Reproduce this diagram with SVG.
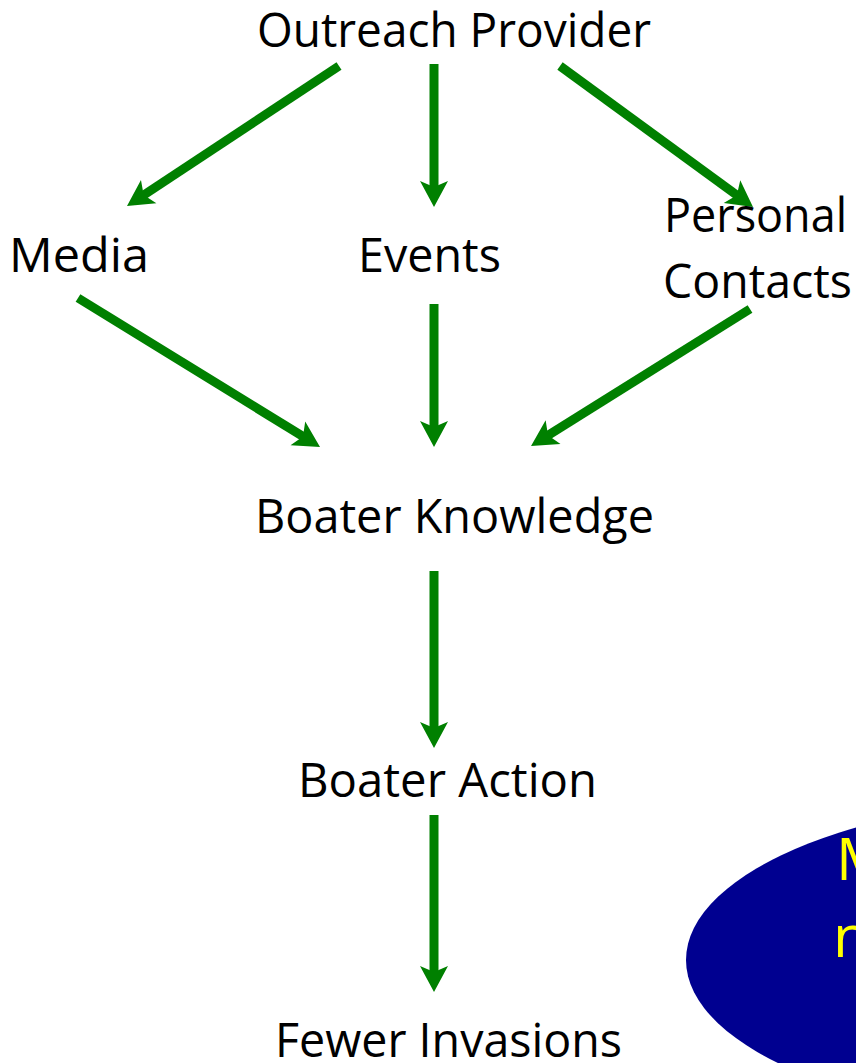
<svg xmlns="http://www.w3.org/2000/svg" width="856" height="1063" viewBox="0 0 856 1063">
  <style>
    .lbl { font-family: "Open Sans", "Noto Sans", "Liberation Sans", sans-serif; font-size: 47px; fill: #000000; }
    .note { font-family: "Open Sans", "Noto Sans", "Liberation Sans", sans-serif; font-size: 59px; fill: #FFFF00; }
    .conn { stroke: #008000; stroke-width: 9; fill: none; stroke-linecap: butt; marker-end: url(#head); }
  </style>
  <defs>
    <!-- notched arrowhead; tip sits 12px beyond the shaft end -->
    <marker id="head" markerUnits="userSpaceOnUse" viewBox="0 0 26 28" markerWidth="26" markerHeight="28" refX="14" refY="14" orient="auto" overflow="visible">
      <path d="M26,14 L0,0 L6,14 L0,28 Z" fill="#008000"/>
    </marker>
  </defs>

  <rect width="856" height="1063" fill="#FFFFFF"/>

  <!-- callout ellipse running off the right edge -->
  <g id="callout">
    <ellipse cx="1106" cy="960" rx="420" ry="165" fill="#000090"/>
    <text class="note" x="836" y="880">M</text>
    <text class="note" x="833" y="957">n</text>
  </g>

  <g id="connectors">
    <line class="conn" x1="339" y1="66" x2="137" y2="199.4"/>
    <line class="conn" x1="434" y1="64" x2="434" y2="195"/>
    <line class="conn" x1="560" y1="66" x2="743.3" y2="199.9"/>
    <line class="conn" x1="78" y1="298" x2="309.8" y2="440.7"/>
    <line class="conn" x1="434" y1="304" x2="434" y2="435"/>
    <line class="conn" x1="750" y1="309" x2="541.2" y2="439.6"/>
    <line class="conn" x1="434" y1="571" x2="434" y2="736"/>
    <line class="conn" x1="434" y1="815" x2="434" y2="980"/>
  </g>

  <g id="outreach-provider">
    <text class="lbl" x="257" y="47" textLength="394" lengthAdjust="spacingAndGlyphs">Outreach Provider</text>
  </g>
  <g id="media">
    <text class="lbl" x="9" y="272" textLength="140" lengthAdjust="spacingAndGlyphs">Media</text>
  </g>
  <g id="events">
    <text class="lbl" x="358" y="272" textLength="143" lengthAdjust="spacingAndGlyphs">Events</text>
  </g>
  <g id="personal-contacts">
    <text class="lbl" x="664" y="232" textLength="183" lengthAdjust="spacingAndGlyphs">Personal</text>
    <text class="lbl" x="663" y="298" textLength="189" lengthAdjust="spacingAndGlyphs">Contacts</text>
  </g>
  <g id="boater-knowledge">
    <text class="lbl" x="255" y="533" textLength="399" lengthAdjust="spacingAndGlyphs">Boater Knowledge</text>
  </g>
  <g id="boater-action">
    <text class="lbl" x="298" y="797" textLength="299" lengthAdjust="spacingAndGlyphs">Boater Action</text>
  </g>
  <g id="fewer-invasions">
    <text class="lbl" x="275" y="1057" textLength="347" lengthAdjust="spacingAndGlyphs">Fewer Invasions</text>
  </g>
</svg>
